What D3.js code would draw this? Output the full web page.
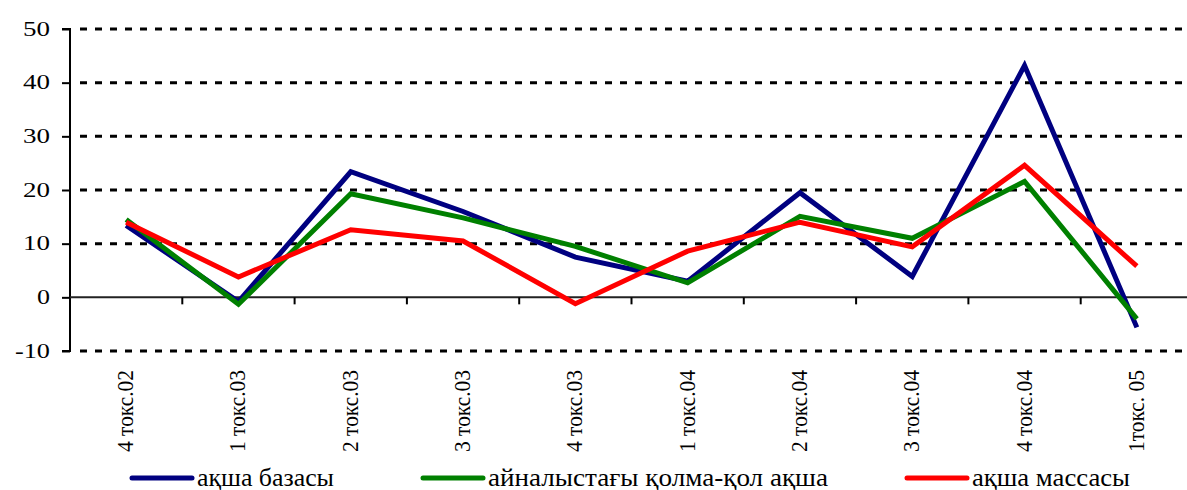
<!DOCTYPE html>
<html>
<head>
<meta charset="utf-8">
<script src="https://cdn.jsdelivr.net/npm/d3@7"></script>
<style>
  html, body { margin: 0; padding: 0; background: #fff; }
  svg { display: block; }
</style>
</head>
<body>
<svg id="chart" width="1187" height="490"></svg>
<script>
const categories = ["4 токс.02","1 токс.03","2 токс.03","3 токс.03","4 токс.03","1 токс.04","2 токс.04","3 токс.04","4 токс.04","1токс. 05"];
const seriesNames = ["ақша базасы", "айналыстағы қолма-қол ақша", "ақша массасы"];
const moneyBase = [13.4, -0.8, 23.4, 16.0, 7.5, 3.0, 19.5, 3.9, 43.2, -5.6];
const cashInCirculation = [14.5, -1.3, 19.3, 14.8, 9.5, 2.7, 15.1, 11.0, 21.6, -4.0];
const moneySupply = [14.0, 3.8, 12.6, 10.5, -1.2, 8.6, 14.0, 9.4, 24.6, 5.8];
const yTicks = [-10, 0, 10, 20, 30, 40, 50];
const colors = ["#000080", "#008000", "#ff0000"];

const FONT = "'Liberation Serif', 'Times New Roman', Times, serif";
const svg = d3.select("#chart").attr("font-family", FONT);
const x = d3.scalePoint().domain(categories).range([70, 1193]).padding(0.5);
const y = d3.scaleLinear().domain([-10, 50]).range([351, 29]);
const step = x.step();

// gridlines (dashed)
svg.append("g").selectAll("line").data(yTicks.filter(d => d !== 0)).join("line")
  .attr("x1", 80).attr("x2", 1187)
  .attr("y1", d => y(d)).attr("y2", d => y(d))
  .attr("stroke", "#000").attr("stroke-width", 3)
  .attr("stroke-dasharray", "7,8");

// y axis
const yAxis = d3.axisLeft(y).tickValues(yTicks).tickSize(8).tickFormat("");
const gy = svg.append("g").attr("transform", "translate(70,0)").call(yAxis);
gy.select(".domain").attr("stroke", "#000").attr("stroke-width", 2).attr("d", `M-8,${y(50)}H0V${y(-10)}H-8`);
gy.selectAll(".tick line").attr("stroke", "#000").attr("stroke-width", 2);

// y tick labels
const yLabelWidth = {"-10": 35, "0": 13, "10": 27, "20": 27, "30": 27, "40": 27, "50": 27};
svg.append("g").selectAll("text").data(yTicks).join("text")
  .attr("x", 50).attr("y", d => y(d) + 6.8)
  .attr("text-anchor", "end")
  .attr("font-family", FONT)
  .attr("font-size", 20)
  .attr("textLength", d => yLabelWidth[String(d)])
  .attr("lengthAdjust", "spacingAndGlyphs")
  .text(d => String(d));

// zero line with category ticks
svg.append("line").attr("x1", 70).attr("x2", 1187).attr("y1", y(0)).attr("y2", y(0))
  .attr("stroke", "#222").attr("stroke-width", 2);
svg.append("g").selectAll("line").data(categories.slice(0, -1)).join("line")
  .attr("x1", d => x(d) + step / 2).attr("x2", d => x(d) + step / 2)
  .attr("y1", y(0)).attr("y2", y(0) + 7)
  .attr("stroke", "#000").attr("stroke-width", 2);

// category labels (rotated)
svg.append("g").selectAll("text").data(categories).join("text")
  .attr("transform", d => `translate(${x(d) + 7},370) rotate(-90)`)
  .attr("text-anchor", "end")
  .attr("font-family", FONT)
  .attr("font-size", 23)
  .attr("textLength", 82)
  .attr("lengthAdjust", "spacingAndGlyphs")
  .text(d => d);

// lines
const allSeries = [moneyBase, cashInCirculation, moneySupply];
const line = d3.line().x((d, i) => x(categories[i])).y(d => y(d));
svg.append("g").selectAll("path").data(allSeries).join("path")
  .attr("d", d => line(d))
  .attr("fill", "none")
  .attr("stroke", (d, i) => colors[i])
  .attr("stroke-width", 5)
  .attr("stroke-linejoin", "miter");

// legend
const legendLineX = [132, 423, 907];
const legendTextLen = [137, 340, 158];
const lg = svg.append("g");
seriesNames.forEach((name, i) => {
  lg.append("line")
    .attr("x1", legendLineX[i]).attr("x2", legendLineX[i] + 60)
    .attr("y1", 478).attr("y2", 478)
    .attr("stroke", colors[i]).attr("stroke-width", 5).attr("stroke-linecap", "round");
  lg.append("text")
    .attr("x", legendLineX[i] + 65).attr("y", 486)
    .attr("font-family", FONT)
    .attr("font-size", 25)
    .attr("textLength", legendTextLen[i])
    .attr("lengthAdjust", "spacingAndGlyphs")
    .text(name);
});
</script>
</body>
</html>
